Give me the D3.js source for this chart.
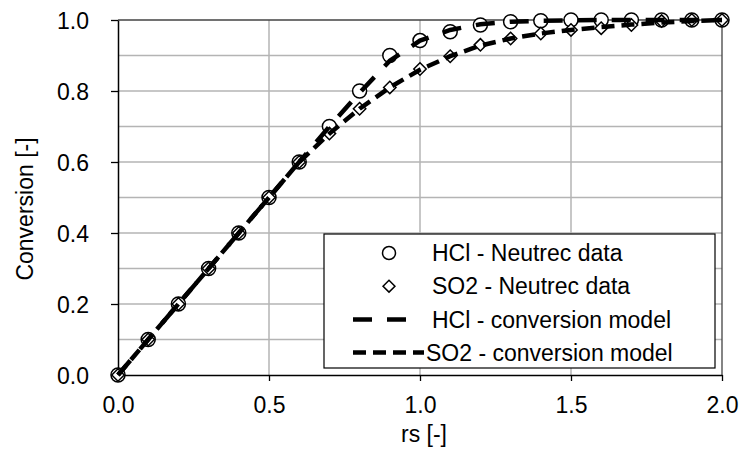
<!DOCTYPE html>
<html>
<head>
<meta charset="utf-8">
<script src="https://cdn.jsdelivr.net/npm/d3@7"></script>
<style>
  body { margin: 0; background: #fff; }
  text { font-family: "Liberation Sans", Arial, sans-serif; fill: #000; }
</style>
</head>
<body>
<div id="chart"></div>
<script>
// rs values (shared x grid)
const rsValues = [0, 0.1, 0.2, 0.3, 0.4, 0.5, 0.6, 0.7, 0.8, 0.9, 1.0, 1.1, 1.2, 1.3, 1.4, 1.5, 1.6, 1.7, 1.8, 1.9, 2.0];

// measured data
const hclData = [0, 0.1, 0.2, 0.3, 0.4, 0.5, 0.6, 0.7, 0.8, 0.9, 0.942, 0.967, 0.986, 0.995, 0.998, 1.0, 1.0, 1.0, 1.0, 1.0, 1.0];
const so2Data = [0, 0.1, 0.2, 0.3, 0.4, 0.5, 0.6, 0.68, 0.75, 0.81, 0.862, 0.898, 0.93, 0.948, 0.962, 0.972, 0.977, 0.986, 0.997, 1.0, 1.0];

// model curves
const hclModel = [0, 0.1, 0.2, 0.3, 0.4, 0.5, 0.6, 0.7, 0.795, 0.885, 0.942, 0.972, 0.988, 0.995, 0.998, 0.999, 1.0, 1.0, 1.0, 1.0, 1.0];
const so2Model = [0, 0.1, 0.2, 0.3, 0.4, 0.5, 0.6, 0.68, 0.75, 0.81, 0.86, 0.898, 0.928, 0.948, 0.962, 0.972, 0.98, 0.987, 0.993, 0.997, 1.0];

const xTicks = [0, 0.5, 1.0, 1.5, 2.0];
const yTicks = [0, 0.2, 0.4, 0.6, 0.8, 1.0];
const yGrid = [0.1, 0.2, 0.3, 0.4, 0.5, 0.6, 0.7, 0.8, 0.9];

const legendItems = [
  { label: "HCl - Neutrec data", type: "circle", tx: 108 },
  { label: "SO2 - Neutrec data", type: "diamond", tx: 108 },
  { label: "HCl - conversion model", type: "line", dash: "19,15", len: 55, tx: 108 },
  { label: "SO2 - conversion model", type: "line", dash: "13,7", len: 71, tx: 102 }
];

const width = 745, height = 454;
const margin = { left: 118, right: 23, top: 20, bottom: 79 };
const fontSize = "23px";

const svg = d3.select("#chart").append("svg")
  .attr("width", width)
  .attr("height", height);

const x = d3.scaleLinear().domain([0, 2]).range([margin.left, width - margin.right]);
const y = d3.scaleLinear().domain([0, 1]).range([height - margin.bottom, margin.top]);

// grid
svg.append("g")
  .selectAll("line")
  .data(yGrid)
  .join("line")
  .attr("x1", x(0)).attr("x2", x(2))
  .attr("y1", d => y(d)).attr("y2", d => y(d))
  .attr("stroke", "#b4b4b4").attr("stroke-width", 1.5);

svg.append("g")
  .selectAll("line")
  .data(xTicks.slice(1, -1))
  .join("line")
  .attr("x1", d => x(d)).attr("x2", d => x(d))
  .attr("y1", y(0)).attr("y2", y(1))
  .attr("stroke", "#b4b4b4").attr("stroke-width", 1.5);

// plot border (top / right)
svg.append("path")
  .attr("d", `M${x(0)},${y(1)}H${x(2)}V${y(0)}`)
  .attr("fill", "none").attr("stroke", "#444").attr("stroke-width", 1.3);

// axes
const xAxis = svg.append("g")
  .attr("transform", `translate(0,${y(0)})`)
  .call(d3.axisBottom(x).tickValues(xTicks).tickFormat(d3.format(".1f")).tickSizeInner(6).tickSizeOuter(0));
const yAxis = svg.append("g")
  .attr("transform", `translate(${x(0)},0)`)
  .call(d3.axisLeft(y).tickValues(yTicks).tickFormat(d3.format(".1f")).tickSizeInner(7).tickSizeOuter(0).tickPadding(22));

[xAxis, yAxis].forEach(a => {
  a.select(".domain").attr("stroke", "#000").attr("stroke-width", 1.5);
  a.selectAll(".tick line").attr("stroke", "#000").attr("stroke-width", 1.3);
  a.selectAll(".tick text")
    .attr("fill", "#000")
    .style("font-size", fontSize)
    .style("font-family", "'Liberation Sans', Arial, sans-serif");
});
xAxis.selectAll(".tick text").attr("y", 38).attr("dy", 0);
yAxis.selectAll(".tick text").attr("dy", "0.36em");

// axis titles
svg.append("text")
  .attr("x", 424).attr("y", 442)
  .attr("text-anchor", "middle")
  .style("font-size", fontSize)
  .text("rs [-]");

svg.append("text")
  .attr("transform", "translate(33,209) rotate(-90)")
  .attr("text-anchor", "middle")
  .style("font-size", fontSize)
  .text("Conversion [-]");

const diamond = d3.symbol().type(d3.symbolDiamond2).size(98);

// markers
const plot = svg.append("g");
plot.selectAll(".hcl-pt")
  .data(rsValues)
  .join("circle")
  .attr("class", "hcl-pt")
  .attr("cx", d => x(d))
  .attr("cy", (d, i) => y(hclData[i]))
  .attr("r", 7)
  .attr("fill", "#fff")
  .attr("stroke", "#000")
  .attr("stroke-width", 1.5);

plot.selectAll(".so2-pt")
  .data(rsValues)
  .join("path")
  .attr("class", "so2-pt")
  .attr("d", diamond)
  .attr("transform", (d, i) => `translate(${x(d)},${y(so2Data[i])})`)
  .attr("fill", "#fff")
  .attr("stroke", "#000")
  .attr("stroke-width", 1.5);

// model lines
const line = d3.line().x(d => x(d[0])).y(d => y(d[1]));

plot.append("path")
  .datum(rsValues.map((d, i) => [d, hclModel[i]]))
  .attr("d", line)
  .attr("fill", "none")
  .attr("stroke", "#000")
  .attr("stroke-width", 4.5)
  .attr("stroke-dasharray", legendItems[2].dash);

plot.append("path")
  .datum(rsValues.map((d, i) => [d, so2Model[i]]))
  .attr("d", line)
  .attr("fill", "none")
  .attr("stroke", "#000")
  .attr("stroke-width", 4.5)
  .attr("stroke-dasharray", legendItems[3].dash);

// legend
const legend = svg.append("g").attr("transform", "translate(324,234)");
legend.append("rect")
  .attr("width", 391).attr("height", 134)
  .attr("fill", "#fff").attr("stroke", "#000").attr("stroke-width", 1.2);

const rows = legend.selectAll(".row")
  .data(legendItems)
  .join("g")
  .attr("class", "row")
  .attr("transform", (d, i) => `translate(0,${19 + i * 33.2})`);

rows.each(function(d) {
  const g = d3.select(this);
  if (d.type === "circle") {
    g.append("circle").attr("cx", 65).attr("cy", 0).attr("r", 6.5)
      .attr("fill", "#fff").attr("stroke", "#000").attr("stroke-width", 1.5);
  } else if (d.type === "diamond") {
    g.append("path").attr("d", d3.symbol().type(d3.symbolDiamond2).size(90))
      .attr("transform", "translate(65,0)")
      .attr("fill", "#fff").attr("stroke", "#000").attr("stroke-width", 1.5);
  } else {
    g.append("line").attr("x1", 29).attr("x2", 29 + d.len).attr("y1", 0).attr("y2", 0)
      .attr("stroke", "#000").attr("stroke-width", 4.5)
      .attr("stroke-dasharray", d.dash);
  }
  g.append("text")
    .attr("x", d.tx).attr("y", 0).attr("dy", "0.36em")
    .style("font-size", fontSize)
    .text(d.label);
});
</script>
</body>
</html>
